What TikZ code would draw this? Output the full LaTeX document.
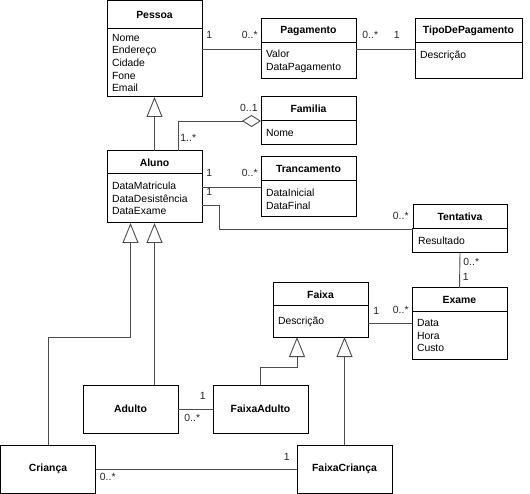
\documentclass[tikz,border=0pt]{standalone}
\usepackage{fontspec}
\setmainfont{Liberation Sans}
\usetikzlibrary{positioning,arrows.meta}

\tikzset{
  classname/.style={draw, rectangle, line width=1pt, minimum width=95pt, minimum height=24pt,
    inner sep=0pt, outer sep=0pt, anchor=north west, font=\fontsize{10.4}{12.7}\selectfont\bfseries},
  classattr/.style={draw, rectangle, line width=1pt, minimum width=95pt, text width=85pt, align=left,
    inner xsep=5pt, inner ysep=0pt, outer sep=0pt, font=\fontsize{10.4}{12.7}\selectfont},
  assoc/.style={draw=black!70, line width=0.9pt},
  inherit/.style={assoc, -{Triangle[open, fill=white, length=20pt, width=16pt]}},
  aggreg/.style={assoc, -{Diamond[open, fill=white, length=19pt, width=12pt]}},
  mult/.style={inner sep=1pt, text=black!85, font=\fontsize{10.4}{12}\selectfont}
}

\begin{document}
\begin{tikzpicture}[x=1pt, y=-1pt]
    \useasboundingbox (0,0) rectangle (530,494);

    % draw classes with attributes
    \node[classname, minimum height=28pt] (pessoa) at (107,1) {Pessoa};
    \node[classattr, below=0pt of pessoa, minimum height=68pt] (pessoaattr) {Nome\\Endereço\\Cidade\\Fone\\Email};

    \node[classname] (pagamento) at (261,19) {Pagamento};
    \node[classattr, below=0pt of pagamento, minimum height=36pt] (pagamentoattr) {Valor\\DataPagamento};

    \node[classname, minimum width=107pt] (tipo) at (415,19) {TipoDePagamento};
    \node[classattr, below=0pt of tipo, minimum height=36pt, text width=97pt] (tipoattr) {Descrição\\\mbox{}};

    \node[classname] (familia) at (261,97) {Familia};
    \node[classattr, below=0pt of familia, minimum height=24pt] (familiaattr) {Nome};

    \node[classname, minimum height=23pt] (aluno) at (107,151) {Aluno};
    \node[classattr, below=0pt of aluno, minimum height=49pt] (alunoattr) {DataMatricula\\DataDesistência\\DataExame};

    \node[classname] (trancamento) at (261,157) {Trancamento};
    \node[classattr, below=0pt of trancamento, minimum height=36pt] (trancamentoattr) {DataInicial\\DataFinal};

    \node[classname, minimum width=94pt] (tentativa) at (413,205) {Tentativa};
    \node[classattr, below=0pt of tentativa, minimum height=24pt, text width=84pt] (tentativaattr) {Resultado};

    \node[classname] (exame) at (412,288) {Exame};
    \node[classattr, below=0pt of exame, minimum height=47pt] (exameattr) {Data\\Hora\\Custo};

    \node[classname, minimum height=23pt] (faixa) at (273,283) {Faixa};
    \node[classattr, below=0pt of faixa, minimum height=31pt] (faixaattr) {Descrição};

    % draw classes without attributes
    \foreach \name/\x/\y/\txt in {adulto/83/385/Adulto, faixaadulto/213/385/FaixaAdulto,
        crianca/0.5/445/Criança, faixacrianca/297/445/FaixaCriança}
      \node[classname, minimum height=48pt] (\name) at (\x,\y) {\txt};

    % draw generalizations
    \draw[inherit] (aluno.north) -- (pessoaattr.south);
    \draw[inherit] (adulto.north -| alunoattr.south) -- (alunoattr.south);
    \draw[inherit] (crianca.north) -- ++(0,-108) -| ([xshift=-24pt]alunoattr.south);
    \draw[inherit] (faixaadulto.north) -- ++(0,-18) -| ([xshift=-23.5pt]faixaattr.south);
    \draw[inherit] (faixacrianca.north) -- (faixacrianca.north |- faixaattr.south);

    % draw aggregation
    \draw[aggreg] (aluno.north -| 178,0) |- (familia.south west)
      node[mult, pos=0, anchor=south west, xshift=1pt, yshift=8pt] {1..*}
      node[mult, pos=1, anchor=south east, xshift=-2pt, yshift=8pt] {0..1};

    % draw associations
    \draw[assoc] (pessoaattr.east |- 0,49) -- (pagamentoattr.west |- 0,49)
      node[mult, pos=0, anchor=south west, xshift=3pt, yshift=9pt] {1}
      node[mult, pos=1, anchor=south east, xshift=-2pt, yshift=9pt] {0..*};
    \draw[assoc] (pagamentoattr.east |- 0,49) -- (tipoattr.west |- 0,49)
      node[mult, pos=0, anchor=south west, xshift=5pt, yshift=9pt] {0..*}
      node[mult, pos=1, anchor=south east, xshift=-14pt, yshift=9pt] {1};
    \draw[assoc] (alunoattr.east |- 0,187) -- (trancamentoattr.west |- 0,187)
      node[mult, pos=0, anchor=south west, xshift=3pt, yshift=9pt] {1}
      node[mult, pos=1, anchor=south east, xshift=-2pt, yshift=9pt] {0..*};
    \draw[assoc] (alunoattr.east |- 0,205) node[mult, anchor=south west, xshift=3pt, yshift=8pt] {1}
      -- ++(17,0) |- (tentativa.south west)
      node[mult, anchor=south east, xshift=-3pt, yshift=8pt] {0..*};
    \draw[assoc] (tentativaattr.south) -- (exame.north)
      node[mult, pos=0, anchor=north west, xshift=2pt, yshift=-4pt] {0..*}
      node[mult, pos=1, anchor=south west, xshift=2pt, yshift=6pt] {1};
    \draw[assoc] (faixaattr.east |- 0,323) -- (exameattr.west |- 0,323)
      node[mult, pos=0, anchor=south west, xshift=4pt, yshift=7pt] {1}
      node[mult, pos=1, anchor=south east, xshift=-2pt, yshift=8pt] {0..*};
    \draw[assoc] (adulto.east) -- (faixaadulto.west)
      node[mult, pos=0, anchor=north west, xshift=5pt, yshift=-4pt] {0..*}
      node[mult, pos=1, anchor=south east, xshift=-6pt, yshift=8pt] {1};
    \draw[assoc] (crianca.east) -- (faixacrianca.west)
      node[mult, pos=0, anchor=north west, xshift=3pt, yshift=-3pt] {0..*}
      node[mult, pos=1, anchor=south east, xshift=-6pt, yshift=7pt] {1};
\end{tikzpicture}
\end{document}
